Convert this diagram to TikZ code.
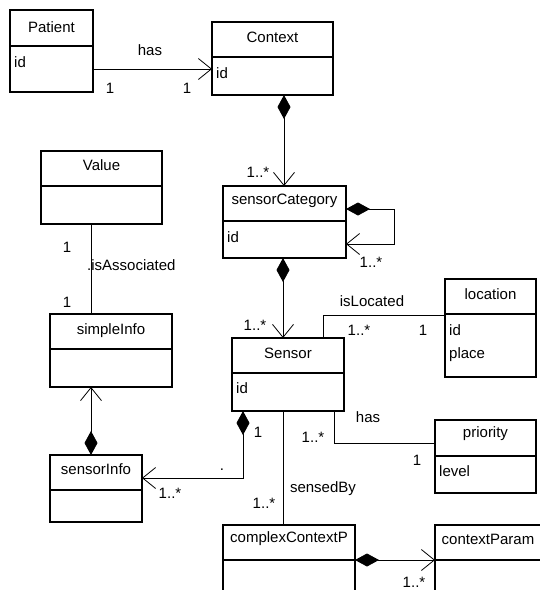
\documentclass[tikz,border=0pt]{standalone}
\usepackage{fontspec}
\setmainfont{Liberation Sans}
\usetikzlibrary{arrows.meta,calc}
\begin{document}
\begin{tikzpicture}[x=1pt,y=-1pt,
  cls/.style={draw,line width=1.1pt,anchor=north west,inner sep=0pt,outer sep=0pt},
  dv/.style={line width=1.1pt},
  ttl/.style={inner sep=0pt,font=\fontsize{15}{18}\selectfont},
  att/.style={inner sep=0pt,anchor=west,font=\fontsize{15}{18}\selectfont},
  lbl/.style={inner sep=0pt,font=\fontsize{15}{18}\selectfont},
  conn/.style={line width=0.8pt},
  comp/.style={conn,{Diamond[length=24pt,width=13pt]}-{Straight Barb[length=13pt,width=21pt,line width=0.8pt]}},
  nav/.style={conn,-{Straight Barb[length=13pt,width=21pt,line width=0.8pt]}},
]
\useasboundingbox (0,0) rectangle (540,590);
\clip (0,0) rectangle (540,590);
\fill[white] (0,0) rectangle (540,590);

% classes
\node[cls,minimum width=83pt,minimum height=82pt] (patient) at (10,10) {};
\draw[dv] (patient.west |- 0,46) -- (patient.east |- 0,46);
\node[ttl] (tpatient) at (51.5,27) {Patient};
\node[att] (apatient) at (14,62) {id};

\node[cls,minimum width=121pt,minimum height=73pt] (context) at (212,22) {};
\draw[dv] (context.west |- 0,57) -- (context.east |- 0,57);
\node[ttl] (tcontext) at (272.5,37) {Context};
\node[att] (acontext) at (216,73) {id};

\node[cls,minimum width=121pt,minimum height=73pt] (value) at (41,151) {};
\draw[dv] (value.west |- 0,186) -- (value.east |- 0,186);
\node[ttl] (tvalue) at (101.5,165) {Value};

\node[cls,minimum width=122pt,minimum height=73pt] (simple) at (50,314) {};
\draw[dv] (simple.west |- 0,349) -- (simple.east |- 0,349);
\node[ttl] (tsimple) at (111,331) {simpleInfo};

\node[cls,minimum width=92pt,minimum height=67pt] (sinfo) at (50,455) {};
\draw[dv] (sinfo.west |- 0,490) -- (sinfo.east |- 0,490);
\node[ttl] (tsinfo) at (96,469) {sensorInfo};

\node[cls,minimum width=123pt,minimum height=72pt] (scat) at (223,186) {};
\draw[dv] (scat.west |- 0,221) -- (scat.east |- 0,221);
\node[ttl] (tscat) at (284.5,201) {sensorCategory};
\node[att] (ascat) at (227,237) {id};

\node[cls,minimum width=112pt,minimum height=73pt] (sensor) at (232,338) {};
\draw[dv] (sensor.west |- 0,373) -- (sensor.east |- 0,373);
\node[ttl] (tsensor) at (288,353) {Sensor};
\node[att] (asensor) at (236,388) {id};

\node[cls,minimum width=91pt,minimum height=98pt] (loc) at (445,279) {};
\draw[dv] (loc.west |- 0,314) -- (loc.east |- 0,314);
\node[ttl] (tloc) at (490.5,294) {location};
\node[att] (aloc1) at (449,330) {id};
\node[att] (aloc2) at (449,355) {place};

\node[cls,minimum width=101pt,minimum height=73pt] (prio) at (435,420) {};
\draw[dv] (prio.west |- 0,456) -- (prio.east |- 0,456);
\node[ttl] (tprio) at (485.5,434) {priority};
\node[att] (aprio) at (439,471) {level};

\node[cls,minimum width=132pt,minimum height=80pt] (ccp) at (223,525) {};
\draw[dv] (ccp.west |- 0,560) -- (ccp.east |- 0,560);
\node[ttl] (tccp) at (289,539) {complexContextP};

\node[cls,minimum width=110pt,minimum height=80pt] (cp) at (435,525) {};
\draw[dv] (cp.west |- 0,560) -- (cp.east |- 0,560);
\node[ttl] (tcp) at (488,539) {contextParam};

% connectors
\draw[nav] (patient.east |- 0,69) -- (context.west |- 0,69);
\draw[comp] (284,0 |- context.south) -- (284,0 |- scat.north);
\coordinate (loopa) at (394,209);
\coordinate (loopb) at (394,244);
\draw[comp] (scat.east |- loopa) -- (loopa) -- (loopb) -- (scat.east |- loopb);
\draw[comp] (283,0 |- scat.south) -- (283,0 |- sensor.north);
\coordinate (locbend) at (323,315);
\draw[conn] (locbend |- sensor.north) -- (locbend) -- (loc.west |- locbend);
\coordinate (priobend) at (334,443);
\draw[conn] (priobend |- sensor.south) -- (priobend) -- (prio.west |- priobend);
\draw[conn] (283,0 |- sensor.south) -- (283,0 |- ccp.north);
\coordinate (sibend) at (243,478);
\draw[comp] (sibend |- sensor.south) -- (sibend) -- (sinfo.east |- sibend);
\draw[comp] (91,0 |- sinfo.north) -- (91,0 |- simple.south);
\draw[conn] (91,0 |- value.south) -- (91,0 |- simple.north);
\draw[comp] (ccp.east |- 0,560) -- (cp.west |- 0,560);

% labels
\node[lbl] (l1) at (150,50) {has};
\node[lbl] (l2) at (110,88) {1};
\node[lbl] (l3) at (187,88) {1};
\node[lbl] (l4) at (258,172) {1..*};
\node[lbl] (l5) at (371,262) {1..*};
\node[lbl] (l6) at (255,325) {1..*};
\node[lbl] (l7) at (372,301) {isLocated};
\node[lbl] (l8) at (359,330) {1..*};
\node[lbl] (l9) at (423,330) {1};
\node[lbl] (l10) at (368,417) {has};
\node[lbl] (l11) at (313,437) {1..*};
\node[lbl] (l12) at (417,460) {1};
\node[lbl] (l13) at (323,489) {sensedBy};
\node[lbl] (l14) at (264,503) {1..*};
\node[lbl] (l15) at (258,432) {1};
\node[lbl] (l16) at (170,493) {1..*};
\node[lbl] (l17) at (222,470) {.};
\node[lbl] (l18) at (414,582) {1..*};
\node[lbl] (l19) at (67,247) {1};
\node[lbl,anchor=west] (l20) at (87,265) {.isAssociated};
\node[lbl] (l21) at (67,302) {1};
\end{tikzpicture}
\end{document}
